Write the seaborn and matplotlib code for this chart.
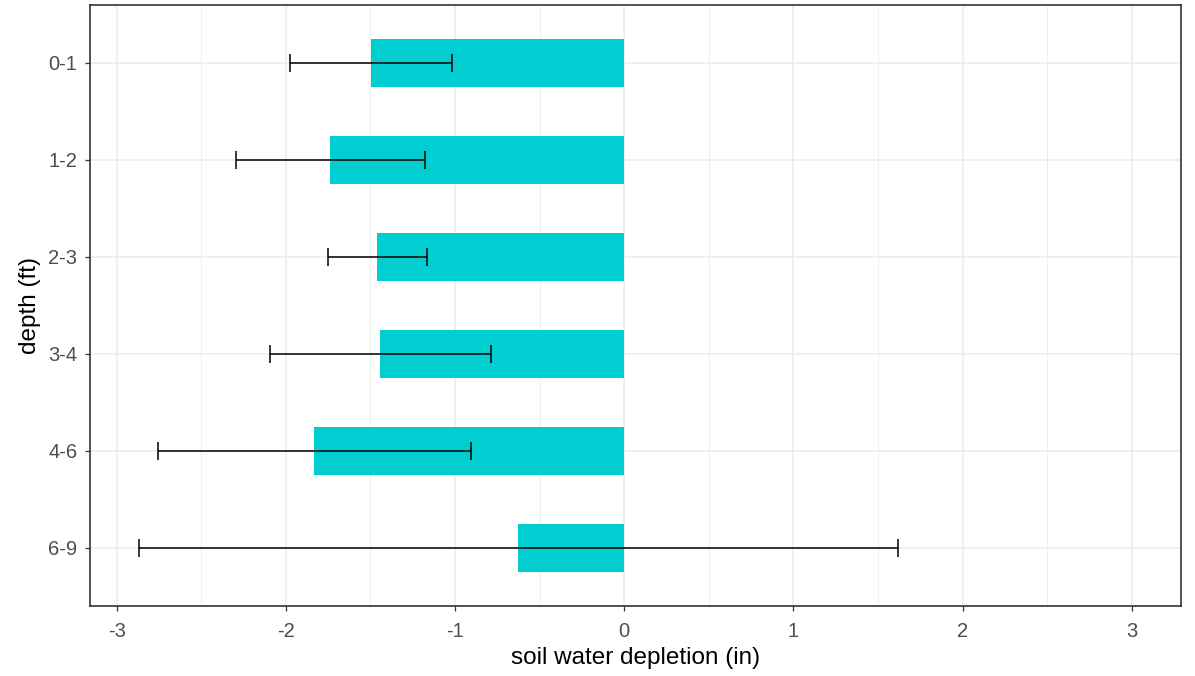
import matplotlib
matplotlib.use("Agg")
import matplotlib.pyplot as plt
import seaborn as sns
import pandas as pd
import numpy as np
from matplotlib.ticker import MultipleLocator

depth = ["0-1", "1-2", "2-3", "3-4", "4-6", "6-9"]
depletion = [-1.495, -1.740, -1.462, -1.442, -1.834, -0.628]
lower = [-1.973, -2.293, -1.752, -2.093, -2.756, -2.865]
upper = [-1.017, -1.177, -1.168, -0.786, -0.906, 1.615]

df = pd.DataFrame({"depth": depth, "depletion": depletion})

sns.set_theme(style="white")
plt.rcParams["font.family"] = ["Liberation Sans", "DejaVu Sans"]
plt.rcParams["axes.unicode_minus"] = False

fig = plt.figure(figsize=(11.95, 6.76), dpi=100)
ax = fig.add_axes([89.5 / 1195, 1 - 606 / 676, (1181 - 89.5) / 1195, (606 - 4.6) / 676])

sns.barplot(data=df, x="depletion", y="depth", order=depth, orient="h",
            color="#00CED1", saturation=1, width=0.5, errorbar=None, ax=ax,
            linewidth=0, zorder=2)

pos = np.arange(len(depth))
means = np.array(depletion)
xerr = [means - np.array(lower), np.array(upper) - means]
ax.errorbar(means, pos, xerr=xerr, fmt="none", ecolor="black", elinewidth=1.1,
            capsize=6.6, capthick=1.1, zorder=3)

ax.set_xlim(-3.16, 3.29)
ax.set_ylim(len(depth) - 0.4, -0.6)
ax.xaxis.set_major_locator(MultipleLocator(1))
ax.xaxis.set_minor_locator(MultipleLocator(0.5))
ax.set_axisbelow(True)
ax.grid(True, which="major", color="#EBEBEB", linewidth=1.1, zorder=0)
ax.grid(True, which="minor", axis="x", color="#EBEBEB", linewidth=0.6, zorder=0)

for s in ax.spines.values():
    s.set_color("#333333")
    s.set_linewidth(1.2)

ax.tick_params(axis="both", which="major", length=3.8, width=0.9, color="#333333",
               labelcolor="#4D4D4D", labelsize=14.5, pad=5, bottom=True, left=True)
ax.tick_params(axis="x", which="major", pad=7.5)
ax.tick_params(axis="both", which="minor", length=0)

ax.set_xlabel("soil water depletion (in)", fontsize=17.5, color="black", labelpad=4.5)
ax.set_ylabel("depth (ft)", fontsize=17.5, color="black", labelpad=5)

fig.savefig("out.png", dpi=100)
